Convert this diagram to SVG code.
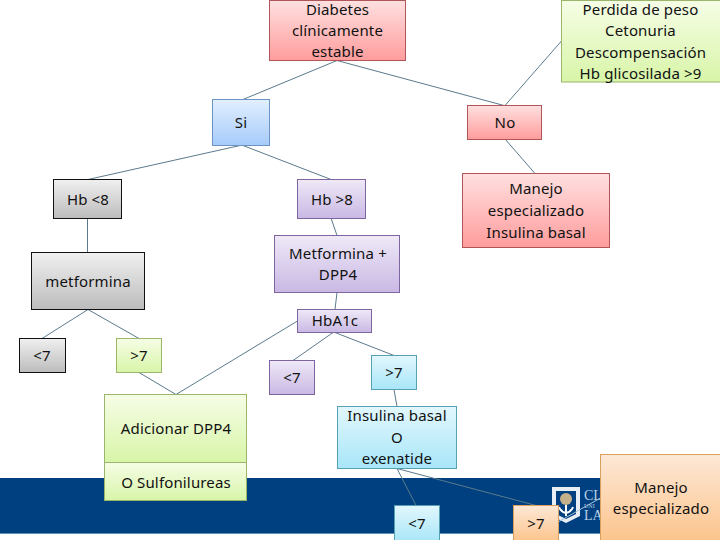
<svg xmlns="http://www.w3.org/2000/svg" width="720" height="540" viewBox="0 0 720 540">
<style>
text{font-family:"Noto Sans","DejaVu Sans",sans-serif;font-size:15px;letter-spacing:.15px;fill:#111;text-anchor:middle}
.c line{stroke:#5b7a8c;stroke-width:1;fill:none}
rect{stroke-width:1}
.red{fill:url(#gr);stroke:#b0555a}
.grn{fill:url(#gg);stroke:#9bb56a}
.blu{fill:url(#gb);stroke:#6a94c4}
.gry{fill:url(#gy);stroke:#111}
.pur{fill:url(#gp);stroke:#7d66a0}
.cya{fill:url(#gc);stroke:#56a0b4}
.org{fill:url(#go);stroke:#dba05c}
.lg{font-family:"Liberation Serif",serif;text-anchor:start;fill:#bcd3e6;letter-spacing:0}
</style>
<defs>
<linearGradient id="gr" x1="0" y1="0" x2="0" y2="1"><stop offset="0" stop-color="#ffe0e0"/><stop offset="1" stop-color="#ff9c9c"/></linearGradient>
<linearGradient id="gg" x1="0" y1="0" x2="0" y2="1"><stop offset="0" stop-color="#f6fde6"/><stop offset="1" stop-color="#d8f5a8"/></linearGradient>
<linearGradient id="gb" x1="0" y1="0" x2="0" y2="1"><stop offset="0" stop-color="#e2efff"/><stop offset="1" stop-color="#a6cbfb"/></linearGradient>
<linearGradient id="gy" x1="0" y1="0" x2="0" y2="1"><stop offset="0" stop-color="#f0f0f0"/><stop offset="1" stop-color="#bcbcbc"/></linearGradient>
<linearGradient id="gp" x1="0" y1="0" x2="0" y2="1"><stop offset="0" stop-color="#efe9f7"/><stop offset="1" stop-color="#c9b8e4"/></linearGradient>
<linearGradient id="gc" x1="0" y1="0" x2="0" y2="1"><stop offset="0" stop-color="#e2f7fd"/><stop offset="1" stop-color="#a8e6f8"/></linearGradient>
<linearGradient id="go" x1="0" y1="0" x2="0" y2="1"><stop offset="0" stop-color="#fde8d6"/><stop offset="1" stop-color="#fcc48c"/></linearGradient>
</defs>
<rect x="0" y="478" width="720" height="55" fill="#004080" stroke="none"/>
<rect x="0" y="533" width="720" height="1" fill="#5f8fb5" stroke="none"/>
<g id="logo">
<path d="M552 487H580V516L566 523L552 516Z" fill="#e8eef4"/>
<path d="M556 491H576V514L566 519L556 514Z" fill="#004080"/>
<circle cx="566" cy="499" r="6" fill="#c4b08a"/>
<path d="M566 505V516M559 507Q561 512 566 513Q571 512 573 507" fill="none" stroke="#fff" stroke-width="2"/>
<text class="lg" x="584" y="500" style="font-size:14px">CL</text>
<text class="lg" x="584" y="508" style="font-size:6px">UNI</text>
<text class="lg" x="584" y="520" style="font-size:14px">LA</text>
</g>
<g class="c" id="connectors">
<line x1="337" y1="60.5" x2="243" y2="99.5"/>
<line x1="337" y1="60.5" x2="504" y2="105.5"/>
<line x1="561.5" y1="41" x2="505" y2="105.5"/>
<line x1="505" y1="139" x2="535" y2="173.5"/>
<line x1="240" y1="145.5" x2="88" y2="179.5"/>
<line x1="243" y1="145.5" x2="331" y2="179.5"/>
<line x1="87.500" y1="218" x2="87.500" y2="252.500"/>
<line x1="331" y1="218" x2="337" y2="235.500"/>
<line x1="337" y1="292.500" x2="335" y2="309.500"/>
<line x1="88" y1="309.500" x2="42" y2="338.500"/>
<line x1="88" y1="309.500" x2="139" y2="338.500"/>
<line x1="139" y1="372.500" x2="176" y2="394.500"/>
<line x1="297.500" y1="321" x2="176" y2="394.500"/>
<line x1="333" y1="332.500" x2="293" y2="360.500"/>
<line x1="335" y1="332.500" x2="394" y2="355.500"/>
<line x1="394" y1="389.500" x2="397" y2="406.500"/>
<line x1="397" y1="468.500" x2="416" y2="505.500"/>
<line x1="397" y1="468.500" x2="536" y2="505.500"/>
<line x1="558" y1="522" x2="600.500" y2="498" style="stroke:#a9c4d8"/>
</g>
<g id="n1"><rect class="red" x="269.500" y="0.500" width="136" height="60"/><text x="337.500" y="15">Diabetes</text><text x="337.500" y="36">clínicamente</text><text x="337.500" y="57">estable</text></g>
<g id="n2"><rect class="grn" x="561.500" y="0.500" width="160" height="81.500"/><text x="640.500" y="15">Perdida de peso</text><text x="640.500" y="36">Cetonuria</text><text x="640.500" y="57.500">Descompensación</text><text x="640.500" y="79">Hb glicosilada &gt;9</text></g>
<g id="n3"><rect class="blu" x="212.500" y="99.500" width="57" height="46"/><text x="241" y="128">Si</text></g>
<g id="n4"><rect class="red" x="467.500" y="105.500" width="74" height="34"/><text x="505" y="128">No</text></g>
<g id="n5"><rect class="gry" x="53.500" y="179.500" width="68" height="39"/><text x="88" y="205">Hb &lt;8</text></g>
<g id="n6"><rect class="pur" x="297.500" y="179.500" width="68" height="39"/><text x="332" y="205">Hb &gt;8</text></g>
<g id="n7"><rect class="red" x="462.500" y="173.500" width="147" height="74"/><text x="536" y="194">Manejo</text><text x="536" y="216">especializado</text><text x="536" y="238">Insulina basal</text></g>
<g id="n8"><rect class="pur" x="274.500" y="235.500" width="125" height="57"/><text x="338" y="259">Metformina +</text><text x="338" y="280">DPP4</text></g>
<g id="n9"><rect class="gry" x="31.500" y="252.500" width="113" height="57"/><text x="88" y="287">metformina</text></g>
<g id="n10"><rect class="pur" x="297.500" y="309.500" width="74" height="23"/><text x="335" y="326">HbA1c</text></g>
<g id="n11"><rect class="gry" x="19.500" y="338.500" width="46" height="34"/><text x="42" y="361">&lt;7</text></g>
<g id="n12"><rect class="grn" x="116.500" y="338.500" width="45" height="34"/><text x="139" y="361">&gt;7</text></g>
<g id="n13"><rect class="pur" x="269.500" y="360.500" width="45" height="34"/><text x="292" y="383">&lt;7</text></g>
<g id="n14"><rect class="cya" x="371.500" y="355.500" width="45" height="34"/><text x="394" y="378">&gt;7</text></g>
<g id="n15"><rect class="grn" x="104.500" y="394.500" width="142" height="68"/><text x="176" y="434">Adicionar DPP4</text></g>
<g id="n16"><rect class="grn" x="104.500" y="462.500" width="142" height="38"/><text x="176" y="488">O Sulfonilureas</text></g>
<g id="n17"><rect class="cya" x="337.500" y="406.500" width="119" height="62"/><text x="397" y="421">Insulina basal</text><text x="397" y="443">O</text><text x="397" y="464">exenatide</text></g>
<g id="n18"><rect class="cya" x="394.500" y="505.500" width="45" height="36"/><text x="417" y="529">&lt;7</text></g>
<g id="n19"><rect class="org" x="513.500" y="505.500" width="45" height="36"/><text x="536" y="529">&gt;7</text></g>
<g id="n20"><rect class="org" x="600.500" y="454.500" width="121" height="87"/><text x="661" y="493">Manejo</text><text x="661" y="514">especializado</text></g>
</svg>
